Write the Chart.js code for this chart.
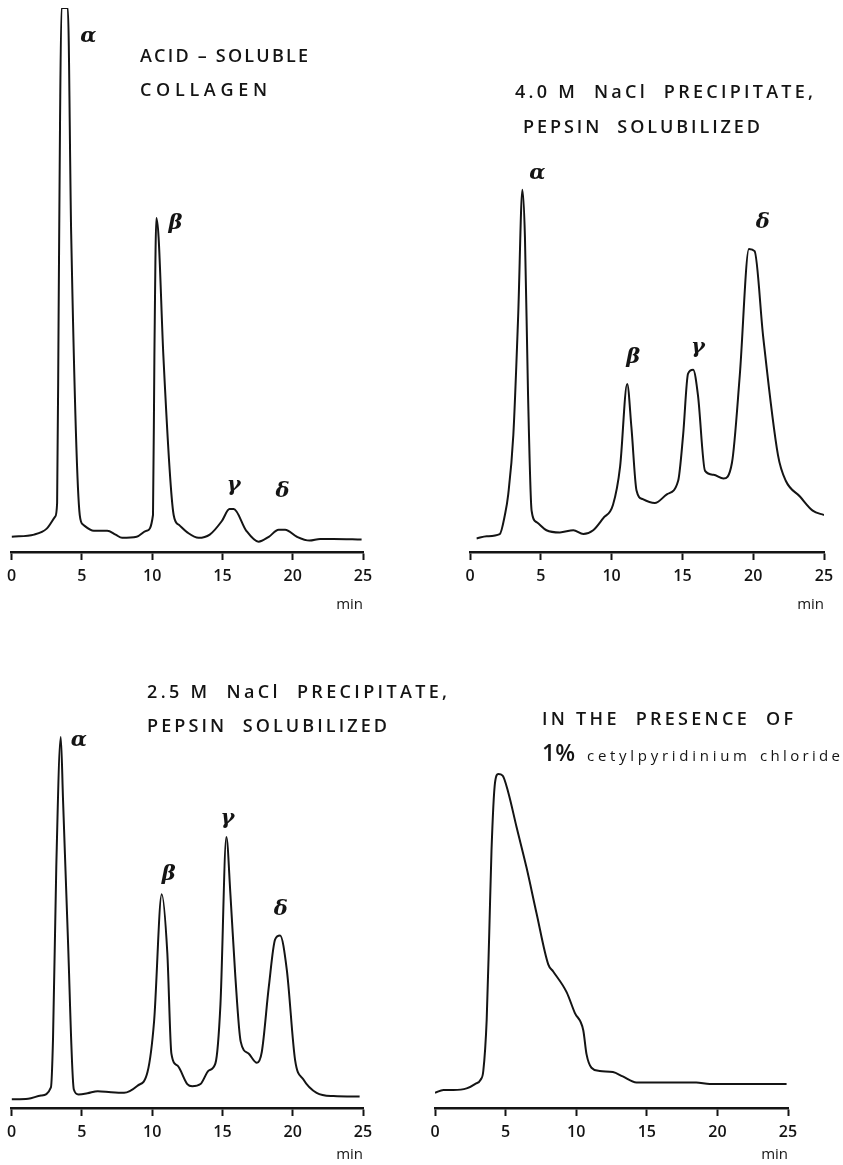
<!DOCTYPE html>
<html lang="en">
<head>
    <meta charset="UTF-8">
    <title>Collagen chromatograms</title>
    <script src="https://cdn.jsdelivr.net/npm/chart.js"></script>
    <style>
        body { margin: 0; background: #fff; }
        #wrap { position: relative; width: 843px; height: 1165px; }
        canvas { position: absolute; }
    </style>
</head>
<body>
<div id="wrap">
    <canvas id="acid" width="420" height="620" style="left:0;top:0"></canvas>
    <canvas id="nacl40" width="423" height="620" style="left:420px;top:0"></canvas>
    <canvas id="nacl25" width="460" height="545" style="left:0;top:620px"></canvas>
    <canvas id="cpc" width="423" height="545" style="left:420px;top:620px"></canvas>
</div>
<script>
// x axis ticks (min)
const tickMinutes = [0, 5, 10, 15, 20, 25];

// acid-soluble collagen
const acidTime = [0, 1.6, 2.5, 3.1, 3.24, 3.35, 3.45, 3.55, 4.0, 4.24, 4.85, 5.1, 5.85, 6.8, 7.4, 7.86, 8.9, 9.6, 10.06, 10.16, 10.3, 10.46, 10.8, 11.53, 11.9, 12.5, 13.3, 14.1, 14.96, 15.5, 15.8, 16.7, 17.57, 18.3, 19.0, 19.46, 20.3, 21.2, 21.95, 22.9, 24.9];
const acidSignal = [2.8, 3.2, 4.3, 6.5, 9, 45, 80, 100, 100, 58.5, 6.8, 5.0, 3.9, 3.9, 3.2, 2.6, 2.8, 3.9, 6.8, 36, 61.4, 57.8, 36, 6.8, 5.0, 3.6, 2.6, 3.2, 5.7, 7.9, 7.9, 3.9, 1.9, 2.8, 4.1, 4.1, 2.8, 2.1, 2.4, 2.4, 2.3];
const acidPeakNames = ['α', 'β', 'γ', 'δ'];
const acidPeakTimes = [3.75, 10.3, 15.65, 19.2];

// 4.0 M NaCl precipitate, pepsin solubilized
const nacl40Time = [0.47, 1.18, 2.1, 2.47, 2.7, 3.06, 3.4, 3.7, 3.88, 4.1, 4.35, 4.7, 5.4, 6.35, 7.3, 8.0, 8.7, 9.4, 10.1, 10.6, 11.1, 11.4, 11.76, 12.2, 13.05, 13.9, 14.7, 15.05, 15.4, 15.76, 16.1, 16.6, 17.2, 17.9, 18.5, 19.05, 19.7, 20.1, 20.7, 21.75, 22.3, 23.3, 24.2, 25.0];
const nacl40Signal = [2.5, 2.9, 3.3, 6.9, 10.6, 21.5, 43.3, 66.6, 57.9, 28.8, 7.6, 5.5, 4.0, 3.6, 4.0, 3.3, 4.0, 6.2, 8.7, 15.7, 30.9, 22.9, 11.3, 9.7, 9.0, 10.6, 13.1, 21.5, 32.8, 33.5, 28.8, 14.9, 14.2, 13.5, 16.4, 32.4, 55.7, 55.3, 39.7, 17.8, 13.1, 10.2, 7.6, 6.8];
const nacl40PeakNames = ['α', 'β', 'γ', 'δ'];
const nacl40PeakTimes = [3.7, 11.1, 15.6, 19.9];

// 2.5 M NaCl precipitate, pepsin solubilized
const nacl25Time = [0, 1.18, 2.1, 2.8, 2.95, 3.18, 3.5, 3.66, 4.0, 4.43, 4.76, 5.4, 6.13, 7.07, 8.0, 8.96, 9.67, 10.14, 10.68, 11.08, 11.37, 11.8, 12.5, 12.85, 13.44, 14.03, 14.5, 14.86, 15.28, 15.57, 15.92, 16.3, 16.86, 17.45, 17.8, 18.3, 18.75, 19.1, 19.58, 20.17, 20.75, 21.7, 22.9, 24.76];
const nacl25Signal = [1.6, 1.7, 2.3, 3.8, 12.9, 44.2, 68.2, 56.7, 31.7, 3.4, 2.5, 2.7, 3.1, 2.9, 2.8, 4.1, 6.6, 16.0, 39.3, 28.5, 10.0, 7.8, 4.4, 4.0, 4.4, 6.9, 8.2, 19.1, 49.8, 39.2, 24.1, 12.2, 10.0, 8.3, 10.3, 22.3, 31.0, 31.7, 25.4, 8.8, 5.3, 2.8, 2.2, 2.1];
const nacl25PeakNames = ['α', 'β', 'γ', 'δ'];
const nacl25PeakTimes = [3.5, 10.68, 15.28, 19.0];

// in the presence of 1% cetylpyridinium chloride
const cpcTime = [0, 0.6, 1.3, 2.24, 2.83, 3.23, 3.42, 3.66, 3.84, 4.0, 4.25, 4.48, 4.79, 5.19, 5.78, 6.49, 7.19, 8.02, 8.37, 9.32, 9.9, 10.5, 10.73, 11.08, 11.67, 12.6, 13.3, 14.27, 15.45, 18.5, 19.46, 24.9];
const cpcSignal = [2.8, 3.3, 3.3, 3.6, 4.4, 5.2, 6.8, 16.2, 32.0, 47.2, 59.8, 61.4, 61.1, 58.0, 51.6, 44.1, 35.8, 26.4, 25.1, 21.3, 17.5, 14.3, 9.9, 7.4, 6.8, 6.6, 5.8, 4.7, 4.7, 4.7, 4.4, 4.4];

const INK = '#141414';
const CAPS = '600 18px "Open Sans"';

// draws a text stretched to a given width by spreading its letters
function drawSpaced(ctx, text, x, y, width, font) {
    ctx.font = font;
    ctx.textAlign = 'left';
    const chars = [...text];
    const natural = chars.reduce((s, c) => s + ctx.measureText(c).width, 0);
    const gap = chars.length > 1 ? (width - natural) / (chars.length - 1) : 0;
    let cx = x;
    chars.forEach(c => {
        ctx.fillText(c, cx, y);
        cx += ctx.measureText(c).width + gap;
    });
}

function notesPlugin(notes) {
    return {
        id: 'notes',
        afterDraw(chart) {
            const ctx = chart.ctx;
            const xs = chart.scales.x, ys = chart.scales.y;
            ctx.save();
            ctx.fillStyle = INK;
            ctx.textBaseline = 'middle';
            notes.lines.forEach(l => drawSpaced(ctx, l.text, l.x, l.y, l.width, l.font || CAPS));

            // peak names, placed at the top of each peak
            ctx.font = 'italic bold 21px "DejaVu Serif"';
            ctx.textAlign = 'center';
            (notes.peakNames || []).forEach((name, i) => {
                const t = notes.peakTimes[i];
                let top = 0;
                notes.time.forEach((tt, j) => {
                    if (Math.abs(tt - t) < 0.6 && notes.signal[j] > top) top = notes.signal[j];
                });
                const off = notes.offsets[i];
                ctx.fillText(name, xs.getPixelForValue(t) + off[0], ys.getPixelForValue(top) + off[1]);
            });
            ctx.restore();
        }
    };
}

function makeChart(id, time, signal, yMax, boxHeight, pad, notes) {
    const points = time.map((t, i) => ({ x: t, y: signal[i] }));
    notes.time = time;
    notes.signal = signal;
    return new Chart(document.getElementById(id), {
        type: 'line',
        data: {
            datasets: [{
                data: points,
                borderColor: INK,
                borderWidth: 2,
                pointRadius: 0,
                cubicInterpolationMode: 'monotone',
                fill: false
            }]
        },
        options: {
            responsive: false,
            animation: false,
            devicePixelRatio: 1,
            layout: { padding: pad },
            plugins: { legend: { display: false }, tooltip: { enabled: false } },
            scales: {
                x: {
                    type: 'linear',
                    min: 0,
                    max: 25,
                    afterBuildTicks: s => { s.ticks = tickMinutes.map(v => ({ value: v })); },
                    afterFit: s => { s.height = boxHeight; },
                    border: { display: true, color: INK, width: 2.5 },
                    grid: { drawOnChartArea: false, drawTicks: true, tickLength: 8, tickWidth: 2, color: INK },
                    ticks: { color: INK, padding: 7, maxRotation: 0, autoSkip: false, font: { family: '"Open Sans"', size: 16, weight: '600' } },
                    title: { display: true, text: 'min', align: 'end', color: INK, padding: 0, font: { family: '"Open Sans"', size: 15 } }
                },
                y: { display: false, min: 0, max: yMax }
            }
        },
        plugins: [notesPlugin(notes)]
    });
}

makeChart('acid', acidTime, acidSignal, 100, 62, { left: 11, right: 57, top: 8, bottom: 6 }, {
    lines: [
        { text: 'ACID – SOLUBLE', x: 140, y: 57, width: 168 },
        { text: 'COLLAGEN', x: 140, y: 91, width: 127 }
    ],
    peakNames: acidPeakNames,
    peakTimes: acidPeakTimes,
    offsets: [[24, 29], [19, 6], [2, -23], [1, -38]]
});

makeChart('nacl40', nacl40Time, nacl40Signal, 100, 62, { left: 50, right: 19, top: 8, bottom: 6 }, {
    lines: [
        { text: '4.0 M  NaCl  PRECIPITATE,', x: 95, y: 93, width: 298 },
        { text: 'PEPSIN  SOLUBILIZED', x: 103, y: 128, width: 237 }
    ],
    peakNames: nacl40PeakNames,
    peakTimes: nacl40PeakTimes,
    offsets: [[15, -16], [6, -26], [7, -22], [11, -26]]
});

makeChart('nacl25', nacl25Time, nacl25Signal, 85, 56, { left: 10, right: 97, top: 25.6, bottom: 1 }, {
    lines: [
        { text: '2.5 M  NaCl  PRECIPITATE,', x: 147, y: 73, width: 300 },
        { text: 'PEPSIN  SOLUBILIZED', x: 147, y: 107, width: 240 }
    ],
    peakNames: nacl25PeakNames,
    peakTimes: nacl25PeakTimes,
    offsets: [[18, 4], [7, -20], [1, -19], [2, -26]]
});

makeChart('cpc', cpcTime, cpcSignal, 85, 56, { left: 15, right: 55, top: 25.6, bottom: 1 }, {
    lines: [
        { text: 'IN THE  PRESENCE  OF', x: 122, y: 100, width: 251 },
        { text: '1%', x: 122, y: 134, width: 33, font: '600 23px "Open Sans"' },
        { text: 'cetylpyridinium', x: 167, y: 137, width: 160, font: '15px "Open Sans"' },
        { text: 'chloride', x: 340, y: 137, width: 80, font: '15px "Open Sans"' }
    ]
});
</script>
</body>
</html>
